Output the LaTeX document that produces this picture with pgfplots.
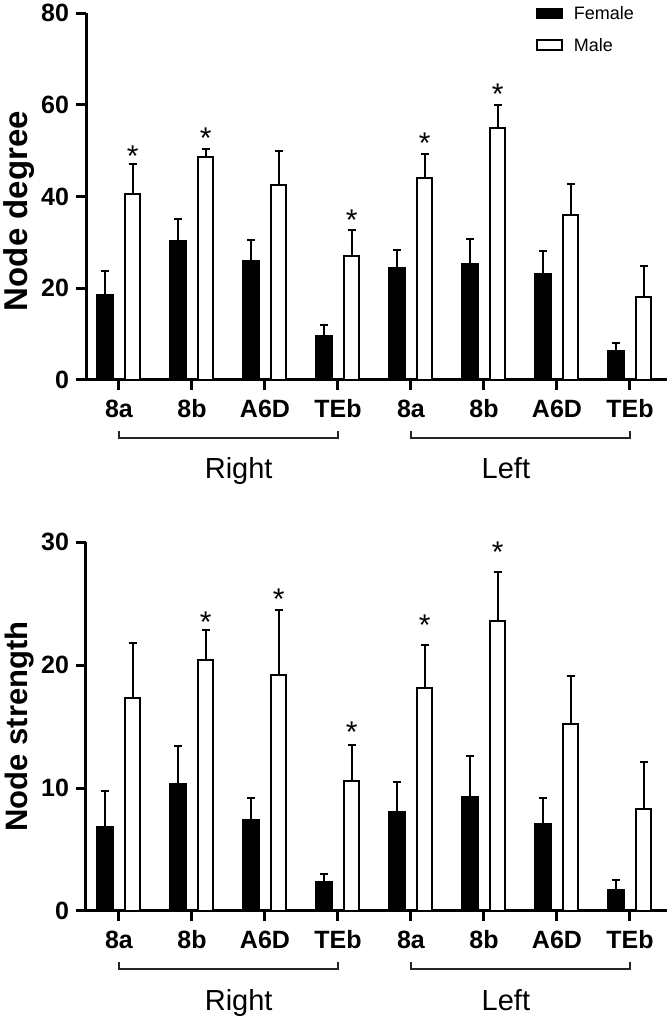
\documentclass[border=0pt]{standalone}
\usepackage{pgfplots}
\pgfplotsset{compat=1.18}
\usepackage{pgfplotstable}
\usepackage{fontspec}
\setmainfont{Liberation Sans}

% bar heights and upper errors (x = group index)
\pgfplotstableread{
x  f     fe    m     me
0  18.6  5.2   40.5  6.5
1  30.4  4.8   48.7  1.6
2  25.9  4.6   42.5  7.4
3  9.6   2.3   27.1  5.5
4  24.4  4.0   44.1  5.1
5  25.2  5.5   54.9  5.0
6  23.2  4.9   36.0  6.7
7  6.3   1.7   18.2  6.7
}\degreetab

\pgfplotstableread{
x  f     fe    m      me
0  6.79  2.93  17.32  4.48
1  10.32 3.12  20.42  2.44
2  7.41  1.74  19.22  5.27
3  2.33  0.71  10.60  2.90
4  8.06  2.44  18.10  3.50
5  9.29  3.31  23.54  4.06
6  7.06  2.14  15.23  3.91
7  1.68  0.87  8.28   3.86
}\strengthtab

\pgfplotsset{
  panel/.style={
    scale only axis, width=290.5pt,
    xmin=-0.452, xmax=7.507, ymin=0,
    axis x line*=bottom, axis y line*=left,
    axis line style={line width=1.5pt, -},
    tick align=outside, major tick length=5pt,
    every tick/.style={line width=1.5pt, black},
    xtick={0,...,7}, xticklabels={8a,8b,A6D,TEb,8a,8b,A6D,TEb},
    xticklabel style={font=\fontsize{12.5}{14}\selectfont\bfseries, yshift=-1.3pt},
    yticklabel style={font=\fontsize{12.5}{14}\selectfont\bfseries},
    /pgf/number format/assume math mode=true,
    clip=false,
  },
  errs/.style={error bars/.cd, y dir=plus, y explicit,
    error bar style={line width=1pt, black},
    error mark options={rotate=90, mark size=2pt, line width=1pt, black}},
  fbar/.style={ybar, bar width=7.75pt, bar shift=0pt,
    fill=black, draw=black, line width=1pt,
    legend image code/.code={\draw[draw=black, fill=black, line width=0.8pt] (0pt,-2pt) rectangle (12.5pt,3pt);},
    errs},
  mbar/.style={ybar, bar width=7.75pt, bar shift=0pt,
    fill=white, draw=black, line width=1pt,
    legend image code/.code={\draw[draw=black, fill=white, line width=0.8pt] (0pt,-2pt) rectangle (12.5pt,3pt);},
    errs},
  stars/.style={only marks, mark=text, text mark={*}, text mark as node=true,
    text mark style={font=\fontsize{15}{15}\selectfont, yshift=-3pt}},
}

\begin{document}
\begin{tikzpicture}
\useasboundingbox (0,0) rectangle (334.5pt,509.5pt);

\begin{axis}[panel, at={(43pt,319.5pt)}, anchor=south west, height=183.5pt,
  ymax=80, ytick={0,20,40,60,80},
  ylabel={Node degree},
  ylabel style={at={(axis description cs:-0.115,0.46)}, anchor=center, font=\fontsize{16.5}{18}\selectfont\bfseries},
  legend style={draw=none, fill=none, at={(axis description cs:0.7745,1.03)}, anchor=north west,
    inner sep=0pt, row sep=3.9pt, font=\fontsize{9}{10}\selectfont, cells={anchor=west},
    /tikz/every odd column/.append style={column sep=3.5pt}},
]
\addplot[fbar] table[x expr=\thisrow{x}-0.1884, y=f, y error=fe] {\degreetab};
\addplot[mbar] table[x expr=\thisrow{x}+0.1884, y=m, y error=me] {\degreetab};
\addplot[stars] coordinates {(0.188,50.0) (1.188,54.0) (3.188,36.1) (4.188,53.0) (5.188,63.6)};
\legend{Female, Male}
\draw[line width=0.6pt, black!85] ([yshift=-25.75pt]axis cs:0,0) -- ([yshift=-29pt]axis cs:0,0) -- ([yshift=-29pt]axis cs:3,0) -- ([yshift=-25.75pt]axis cs:3,0);
\draw[line width=0.6pt, black!85] ([yshift=-25.75pt]axis cs:4,0) -- ([yshift=-29pt]axis cs:4,0) -- ([yshift=-29pt]axis cs:7,0) -- ([yshift=-25.75pt]axis cs:7,0);
\node[anchor=base, font=\fontsize{14.5}{16}\selectfont] at ([yshift=-49.5pt]axis cs:1.64,0) {Right};
\node[anchor=base, font=\fontsize{14.5}{16}\selectfont] at ([yshift=-49.5pt]axis cs:5.30,0) {Left};
\end{axis}

\begin{axis}[panel, at={(43pt,54pt)}, anchor=south west, height=184.5pt,
  ymax=30, ytick={0,10,20,30},
  ylabel={Node strength},
  ylabel style={at={(axis description cs:-0.115,0.5)}, anchor=center, font=\fontsize{15.5}{17}\selectfont\bfseries},
]
\addplot[fbar] table[x expr=\thisrow{x}-0.1884, y=f, y error=fe] {\strengthtab};
\addplot[mbar] table[x expr=\thisrow{x}+0.1884, y=m, y error=me] {\strengthtab};
\addplot[stars] coordinates {(1.188,24.0) (2.188,25.85) (3.188,15.0) (4.188,23.7) (5.188,29.7)};
\draw[line width=0.6pt, black!85] ([yshift=-25.75pt]axis cs:0,0) -- ([yshift=-29pt]axis cs:0,0) -- ([yshift=-29pt]axis cs:3,0) -- ([yshift=-25.75pt]axis cs:3,0);
\draw[line width=0.6pt, black!85] ([yshift=-25.75pt]axis cs:4,0) -- ([yshift=-29pt]axis cs:4,0) -- ([yshift=-29pt]axis cs:7,0) -- ([yshift=-25.75pt]axis cs:7,0);
\node[anchor=base, font=\fontsize{14.5}{16}\selectfont] at ([yshift=-49.5pt]axis cs:1.64,0) {Right};
\node[anchor=base, font=\fontsize{14.5}{16}\selectfont] at ([yshift=-49.5pt]axis cs:5.30,0) {Left};
\end{axis}
\end{tikzpicture}
\end{document}
